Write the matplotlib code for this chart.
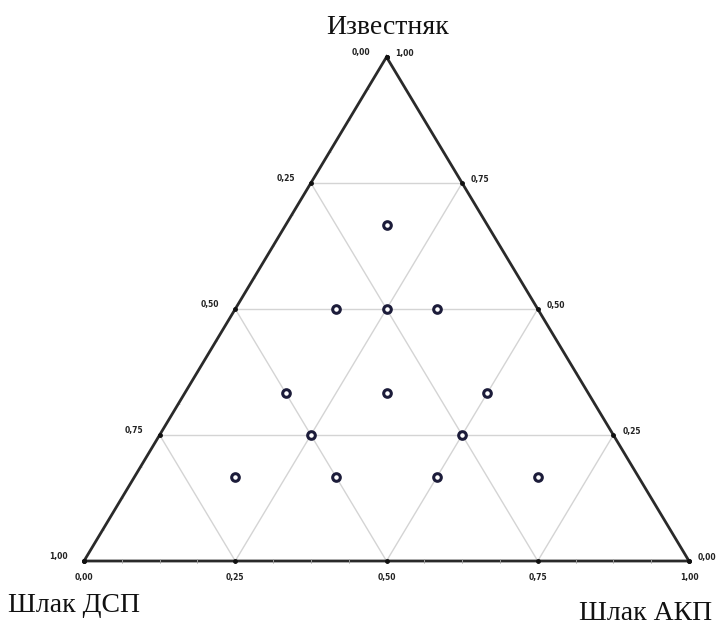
import numpy as np
import matplotlib.pyplot as plt

# mixture compositions: slag DSP, slag AKP, limestone (fractions)
dsp = [1/6, 1/3, 1/4, 1/6, 1/2, 1/3, 1/6, 1/2, 1/4, 2/3, 1/2, 1/3, 1/6]
akp = [1/6, 1/6, 1/4, 1/3, 1/6, 1/3, 1/2, 1/4, 1/2, 1/6, 1/3, 1/2, 2/3]
lime = [2/3, 1/2, 1/2, 1/2, 1/3, 1/3, 1/3, 1/4, 1/4, 1/6, 1/6, 1/6, 1/6]

grid_vals = [0.25, 0.5, 0.75]
tick_vals = [0.0, 0.25, 0.5, 0.75, 1.0]


def fmt(v):
    return f"{v:.2f}".replace(".", ",")


def to_xy(a, l):
    # a = AKP share (bottom axis), l = limestone share (height)
    a, l = np.broadcast_arrays(np.asarray(a, float), np.asarray(l, float))
    return a + l / 2, l


fig = plt.figure(figsize=(7.23, 6.24), dpi=100)
W, H = 723, 624
ax = fig.add_axes([84 / W, (H - 561) / H, 605 / W, 504 / H])
ax.set_xlim(0, 1)
ax.set_ylim(0, 1)
ax.axis("off")

# grid lines, parallel to each side
gc = "#d4d4d4"
for g in grid_vals:
    # constant limestone
    x0, y0 = to_xy(0, g)
    x1, y1 = to_xy(1 - g, g)
    ax.plot([x0, x1], [y0, y1], color=gc, lw=1.0, zorder=1)
    # constant AKP
    x0, y0 = to_xy(g, 0)
    x1, y1 = to_xy(g, 1 - g)
    ax.plot([x0, x1], [y0, y1], color=gc, lw=1.0, zorder=1)
    # constant DSP
    x0, y0 = to_xy(1 - g, 0)
    x1, y1 = to_xy(0, 1 - g)
    ax.plot([x0, x1], [y0, y1], color=gc, lw=1.0, zorder=1)

# triangle outline
ax.plot([0, 1, 0.5, 0], [0, 0, 1, 0], color="#2a2a2a", lw=2.0,
        solid_joinstyle="miter", zorder=2, clip_on=False)

# minor ticks along the sides
minor = np.arange(0.0625, 1, 0.0625)
mc = "#9a9a9a"
mx, my = to_xy(minor, 0)
ax.plot(mx, my, "|", color=mc, ms=2.5, mew=0.7, zorder=3, clip_on=False)
mx, my = to_xy(0, minor)
ax.plot(mx, my, "_", color="#b5b5b5", ms=2, mew=0.5, zorder=1, clip_on=False)
mx, my = to_xy(1 - minor, minor)
ax.plot(mx, my, "_", color="#b5b5b5", ms=2, mew=0.5, zorder=1, clip_on=False)

# major tick dots and labels
tk = dict(fontsize=5.5, fontweight="bold", color="#222222", family="DejaVu Sans")
for t in tick_vals:
    # bottom axis: AKP
    bx, by = to_xy(t, 0)
    ax.plot(bx, by, "o", color="#111111", ms=2.5, zorder=4, clip_on=False)
    ax.text(bx, by - 0.032, fmt(t), ha="center", va="center", **tk)
    # left axis: DSP (0 at apex, 1 at bottom-left)
    lx, ly = to_xy(0, 1 - t)
    ax.plot(lx, ly, "o", color="#111111", ms=2.5, zorder=4, clip_on=False)
    ax.text(lx - 0.042, ly + 0.008, fmt(t), ha="center", va="center", **tk)
    # right axis: limestone (1 at apex, 0 at bottom-right)
    rx, ry = to_xy(1 - t, t)
    ax.plot(rx, ry, "o", color="#111111", ms=2.5, zorder=4, clip_on=False)
    ax.text(rx + 0.03, ry + 0.006, fmt(t), ha="center", va="center", **tk)

# experimental mixtures
px, py = to_xy(akp, lime)
ax.scatter(px, py, s=30, facecolor="white", edgecolor="#1c1c3a",
           linewidth=2.2, zorder=5, clip_on=False)

serif = dict(fontsize=20, family="Liberation Serif", color="#111111")
fig.text(388 / W, 1 - 27 / H, "Известняк", ha="center", va="center", **serif)
fig.text(8 / W, 1 - 605 / H, "Шлак ДСП", ha="left", va="center", **serif)
fig.text(712 / W, 1 - 613 / H, "Шлак АКП", ha="right", va="center", **serif)

fig.savefig("out.png", dpi=100)
